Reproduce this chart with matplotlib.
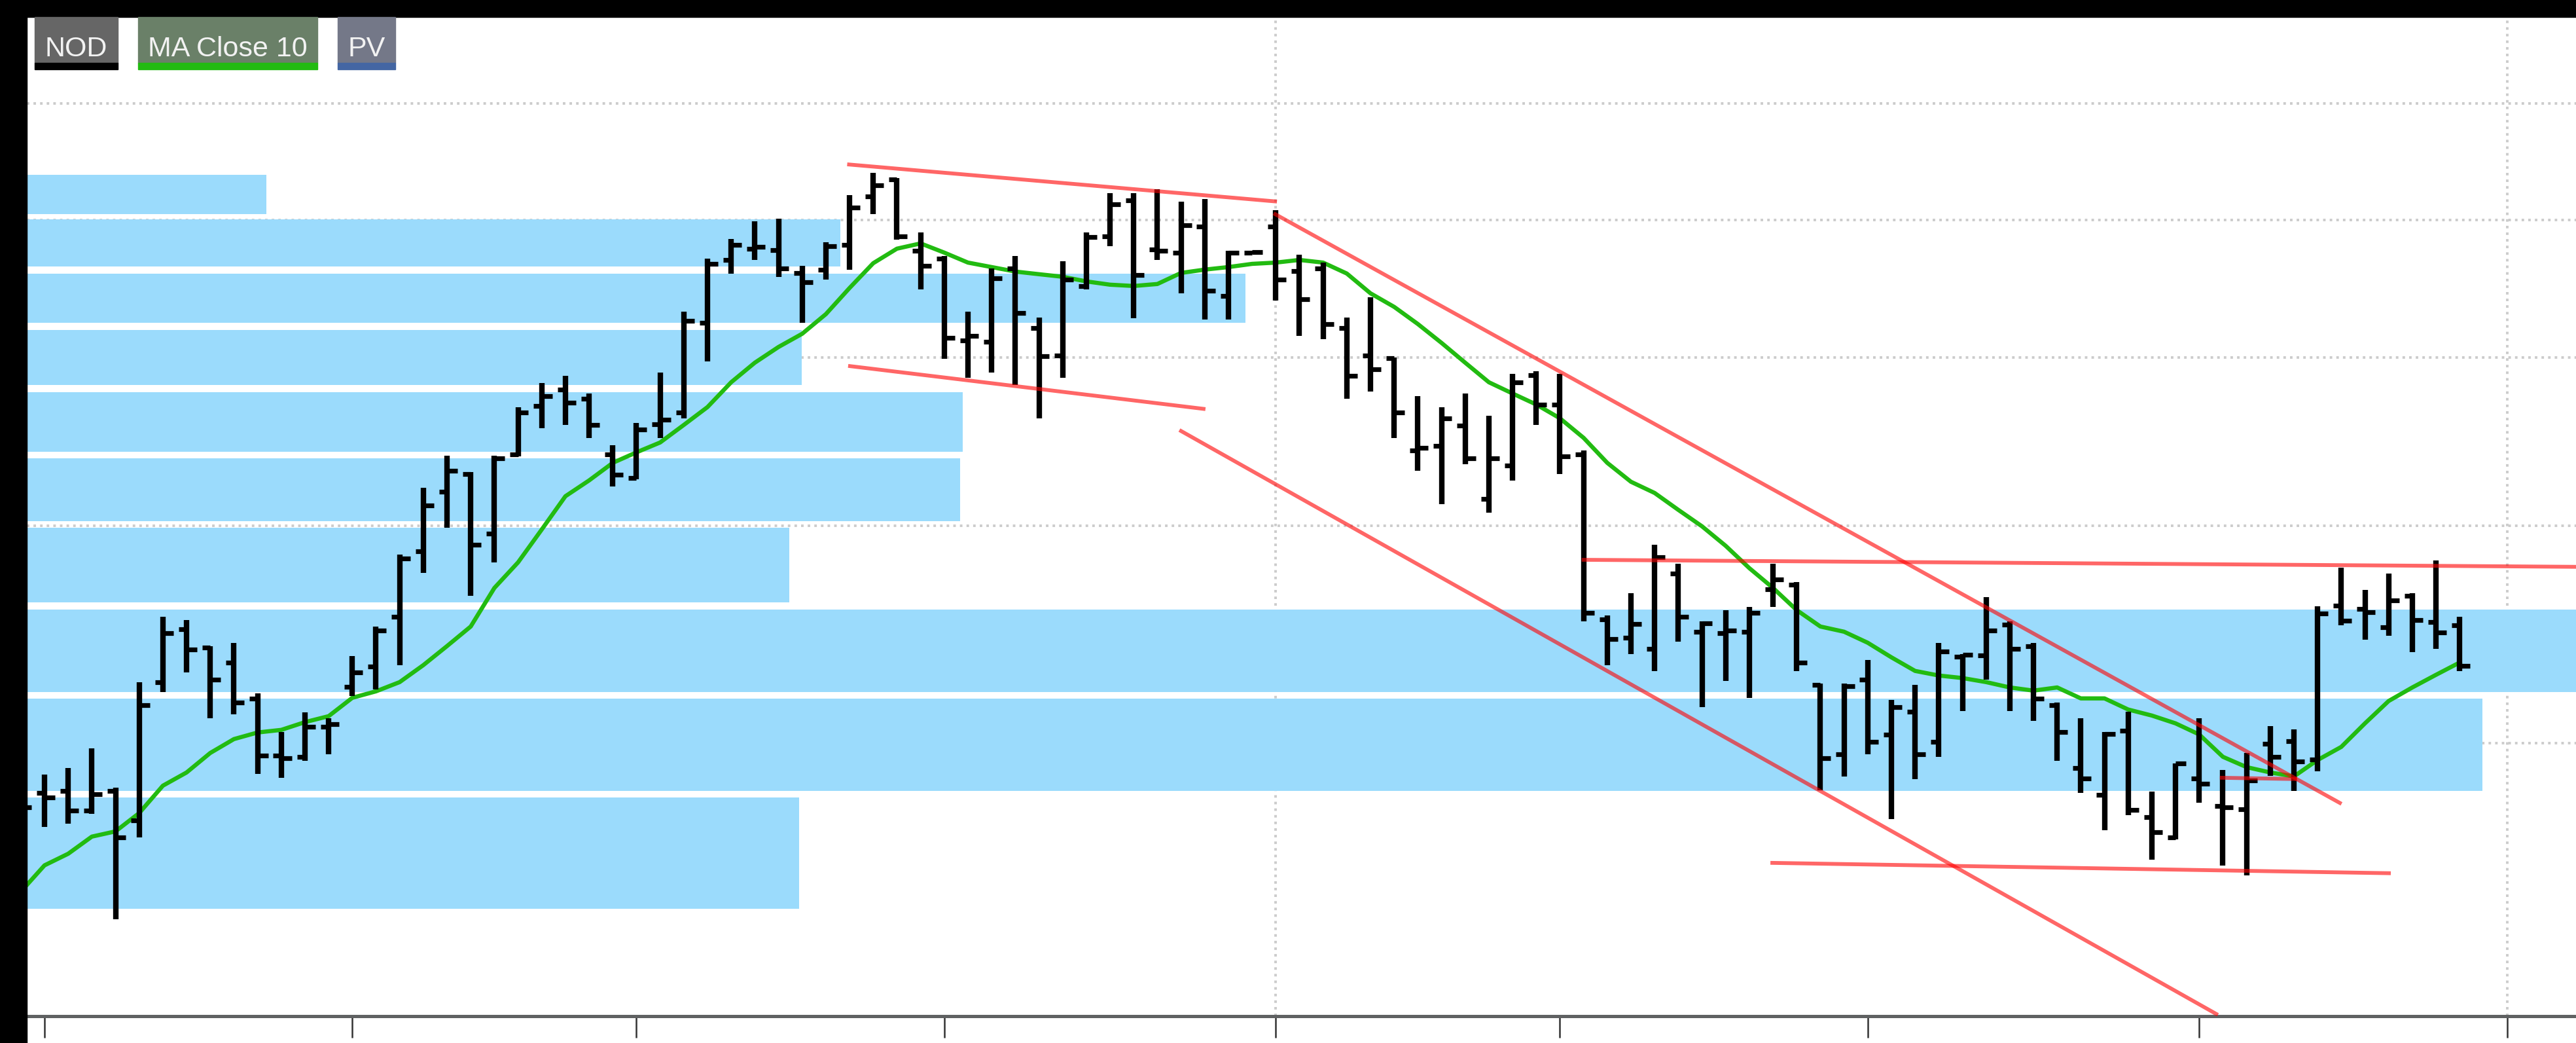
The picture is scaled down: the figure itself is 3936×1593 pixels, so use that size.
import numpy as np
import matplotlib
matplotlib.use("Agg")
import matplotlib.pyplot as plt
from matplotlib.collections import LineCollection
from matplotlib.patches import Rectangle
from matplotlib.ticker import NullLocator
from matplotlib import font_manager

W, H, DPI = 3937, 1593, 100

# weekly bars, index 0 = first fully visible week
week = np.arange(-1, 103)

bar_open = [54.78, 56.18, 56.32, 54.88, 56.32, 54.16, 65.05, 69.78, 68.11, 66.76,
            63.66, 59.02, 58.92, 61.32, 64.65, 66.42, 70.94, 77.37, 83.71, 85.71,
            79.21, 87.96, 93.80, 95.84, 94.69, 87.96, 85.26, 91.53, 92.99, 104.72,
            113.79, 115.50, 115.30, 111.85, 112.34, 116.11, 123.78, 126.63, 115.20, 113.99,
            102.30, 102.13, 112.53, 103.98, 100.27, 109.93, 117.41, 123.15, 115.40, 114.90,
            118.94, 108.50, 114.85, 118.94, 112.14, 112.53, 103.98, 100.27, 99.90, 88.42,
            88.96, 91.37, 82.93, 86.67, 97.70, 93.96, 87.96, 70.69, 69.00, 67.99,
            75.12, 69.54, 69.42, 69.54, 73.56, 74.02, 64.82, 59.12, 65.28, 60.69,
            62.56, 60.11, 67.30, 67.39, 70.20, 68.23, 63.11, 58.07, 56.04, 61.01,
            54.40, 52.97, 57.26, 55.21, 54.98, 59.96, 60.17, 58.72, 72.00, 71.69,
            69.96, 72.94, 70.44, 70.14]

bar_high = [56.23, 57.56, 58.07, 59.59, 56.57, 65.05, 70.94, 70.63, 68.23, 68.53,
            64.10, 60.90, 62.51, 62.01, 67.34, 70.02, 77.02, 84.15, 87.80, 85.93,
            87.80, 93.64, 96.69, 97.62, 95.34, 89.04, 91.69, 98.04, 106.28, 113.99,
            117.01, 119.78, 120.20, 112.91, 116.51, 124.00, 127.73, 126.85, 118.02, 114.39,
            106.28, 112.53, 114.39, 105.45, 113.59, 118.02, 124.33, 124.33, 124.99, 122.94,
            123.36, 115.20, 115.20, 121.57, 114.60, 113.39, 105.45, 108.31, 100.00, 95.01,
            93.64, 95.34, 92.58, 97.87, 98.21, 97.87, 88.42, 71.06, 73.19, 78.05,
            76.10, 70.50, 71.56, 71.88, 76.10, 74.28, 64.94, 64.94, 66.99, 63.55,
            64.82, 68.53, 67.51, 72.81, 70.50, 68.53, 63.33, 62.01, 60.90, 62.56,
            56.28, 58.42, 62.01, 57.91, 59.22, 61.38, 61.11, 71.94, 75.71, 73.50,
            75.12, 73.19, 76.43, 70.94]

bar_low = [53.75, 53.70, 53.93, 54.64, 47.52, 52.97, 64.21, 65.91, 62.01, 62.34,
           57.61, 57.31, 58.62, 59.12, 63.88, 64.43, 66.53, 75.19, 79.82, 72.94,
           76.23, 87.72, 91.06, 91.45, 89.90, 84.30, 85.12, 89.90, 92.26, 99.48,
           111.76, 113.79, 111.28, 104.72, 110.89, 112.34, 120.94, 116.91, 109.45, 99.83,
           97.37, 98.04, 96.44, 92.26, 97.37, 109.45, 115.90, 105.36, 113.79, 108.87,
           105.18, 105.18, 114.70, 107.85, 102.92, 102.48, 94.69, 95.59, 89.90, 86.08,
           82.36, 86.82, 81.44, 84.97, 91.45, 85.71, 70.50, 66.53, 67.51, 66.02,
           68.65, 62.95, 65.16, 63.71, 71.88, 66.02, 56.37, 57.41, 59.12, 54.25,
           57.21, 58.92, 62.62, 65.28, 62.62, 61.80, 58.62, 56.18, 53.47, 54.54,
           51.43, 52.83, 55.46, 51.03, 50.37, 57.46, 56.32, 57.81, 70.14, 68.83,
           69.18, 67.69, 67.99, 66.02]

bar_close = [55.12, 55.84, 54.88, 56.08, 52.97, 63.11, 69.42, 67.93, 65.28, 63.33,
             59.02, 58.82, 61.32, 61.53, 65.91, 69.66, 76.62, 82.22, 86.08, 78.05,
             87.49, 92.99, 95.01, 94.20, 91.45, 85.63, 90.90, 92.10, 104.99, 113.20,
             116.11, 115.80, 112.53, 110.51, 115.90, 121.99, 125.64, 117.41, 112.91, 102.66,
             102.92, 111.08, 106.10, 100.18, 110.89, 117.31, 122.52, 111.57, 115.20, 119.15,
             109.26, 114.90, 114.95, 110.89, 108.03, 104.53, 97.62, 98.47, 92.99, 88.73,
             92.26, 87.49, 87.49, 96.77, 93.96, 87.72, 71.31, 68.89, 70.26, 76.75,
             70.94, 70.32, 69.66, 71.31, 74.54, 66.76, 58.82, 64.70, 60.11, 62.95,
             59.12, 67.75, 67.45, 69.66, 67.99, 63.66, 60.90, 57.26, 60.75, 54.93,
             53.33, 58.42, 56.86, 55.12, 57.11, 58.92, 58.57, 71.25, 70.56, 71.38,
             72.50, 70.63, 69.48, 66.48]

ma_close = [49.28, 51.03, 51.82, 53.01, 53.38, 54.69, 56.71, 57.71, 59.22, 60.32,
            60.85, 61.06, 61.69, 62.18, 63.71, 64.26, 65.05, 66.53, 68.23, 70.02,
            73.69, 76.23, 79.62, 83.21, 84.97, 86.97, 88.19, 89.35, 91.45, 93.64,
            96.77, 99.31, 101.40, 103.19, 105.91, 109.64, 113.30, 115.50, 116.31, 114.90,
            113.39, 112.72, 112.05, 111.66, 111.28, 110.60, 110.12, 109.93, 110.22, 111.85,
            112.34, 112.72, 113.20, 113.39, 113.79, 113.39, 111.76, 108.87, 106.93, 104.53,
            101.95, 99.31, 96.77, 95.34, 93.96, 92.26, 89.90, 86.97, 84.82, 83.57,
            81.72, 79.96, 77.92, 75.65, 73.69, 71.56, 70.02, 69.54, 68.53, 67.22,
            66.02, 65.62, 65.40, 65.05, 64.59, 64.32, 64.59, 63.66, 63.66, 62.73,
            62.23, 61.59, 60.69, 58.92, 58.12, 57.71, 57.41, 58.67, 59.70, 61.59,
            63.44, 64.59, 65.68, 66.76]

# price volume profile (price bins, volume as % of the largest bin)
profile_low = [120.94, 112.82, 104.72, 96.44, 88.27, 80.51, 72.31, 64.21, 56.32, 48.19]
profile_high = [127.40, 120.10, 111.76, 103.72, 95.50, 87.49, 79.82, 71.63, 63.66, 55.84]
profile_volume = [9.4, 31.9, 47.8, 30.4, 36.7, 36.6, 29.9, 100.0, 96.3, 30.3]

# hand drawn trend lines: (week0, price0, week1, price1)
trend_lines = [
    (33.90, 129.15, 52.05, 122.94),
    (33.94, 98.89, 49.03, 93.39),
    (47.93, 90.83, 91.79, 41.86),
    (51.91, 121.04, 97.01, 55.36),
    (64.92, 76.49, 106.94, 75.78),
    (72.89, 51.20, 99.09, 50.50),
    (91.87, 57.31, 95.14, 57.21),
]

quarter_ticks = [0, 13, 25, 38, 52, 64, 77, 91, 104]
year_lines = [52, 104]
price_grid = [60, 80, 100, 120, 140]

legend_labels = ["NOD", "MA Close 10", "PV"]
legend_bg = ["#666666", "#6a8068", "#747888"]
legend_line = ["#000000", "#22bb11", "#4466a3"]

fig = plt.figure(figsize=(W / DPI, H / DPI), dpi=DPI, facecolor="white")
ax = fig.add_axes([41 / W, 41 / H, (W - 41) / W, (1552 - 26) / H])
ax.set_facecolor("white")
ax.set_yscale("log")
ax.set_ylim(41.79, 156.98)
ax.set_xlim(-0.746, 106.94)

grid_style = dict(color="#cccccc", lw=2.8, ls=(0, (1, 1.6)), zorder=0.5)
for p in price_grid:
    ax.axhline(p, **grid_style)
for w in year_lines:
    ax.axvline(w, **grid_style)

for lo, hi, v in zip(profile_low, profile_high, profile_volume):
    ax.axhspan(lo, hi, xmin=0, xmax=v / 100, color="#9bdbfc", lw=0, zorder=1)

ax.plot(week, ma_close, color="#22bb11", lw=4.6, zorder=2, solid_joinstyle="round")

o, h, l, c = map(np.asarray, (bar_open, bar_high, bar_low, bar_close))
stems = [[(x, lo), (x, hi)] for x, lo, hi in zip(week, l, h)]
ticks = [[(x - 0.34, y), (x, y)] for x, y in zip(week, o)]
ticks += [[(x, y), (x + 0.44, y)] for x, y in zip(week, c)]
ax.add_collection(LineCollection(stems, colors="black", linewidths=6, capstyle="butt", zorder=3))
ax.add_collection(LineCollection(ticks, colors="black", linewidths=5.2, capstyle="butt", zorder=3))

for x0, p0, x1, p1 in trend_lines:
    ax.plot([x0, x1], [p0, p1], color="red", alpha=0.6, lw=4.2, solid_capstyle="butt", zorder=4)

for s in ["top", "left", "right"]:
    ax.spines[s].set_visible(False)
ax.spines["bottom"].set_color("#5f6162")
ax.spines["bottom"].set_linewidth(3.6)
ax.set_xticks(quarter_ticks)
ax.tick_params(axis="x", length=24, width=1.8, color="#333333", direction="out", labelbottom=False)
ax.yaxis.set_minor_locator(NullLocator())
ax.set_yticks([])
ax.tick_params(axis="y", which="both", left=False, labelleft=False)

# black frame on top and left
fig.add_artist(Rectangle((0, 1 - 26 / H), 1, 26 / H, transform=fig.transFigure, color="black", zorder=5))
fig.add_artist(Rectangle((0, 0), 41 / W, 1, transform=fig.transFigure, color="black", zorder=5))

# legend chips
names = {f.name for f in font_manager.fontManager.ttflist}
if "Liberation Sans Narrow" in names:
    fam, fs = "Liberation Sans Narrow", 40
else:
    fam, fs = "Liberation Sans", 31
spans = [(53, 180), (211, 485), (516, 604)]
for (x0, x1), lab, bg, ln in zip(spans, legend_labels, legend_bg, legend_line):
    fig.add_artist(Rectangle((x0 / W, 1 - 96 / H), (x1 - x0) / W, 70 / H,
                             transform=fig.transFigure, color=bg, zorder=6))
    fig.add_artist(Rectangle((x0 / W, 1 - 106 / H), (x1 - x0) / W, 10 / H,
                             transform=fig.transFigure, color=ln, zorder=6))
    fig.text((x0 + x1) / 2 / W, 1 - 86 / H, lab, ha="center", va="baseline",
             color="#f2f2f2", fontsize=fs, family=fam, zorder=7)

fig.savefig("out.png", dpi=DPI, facecolor="white")
